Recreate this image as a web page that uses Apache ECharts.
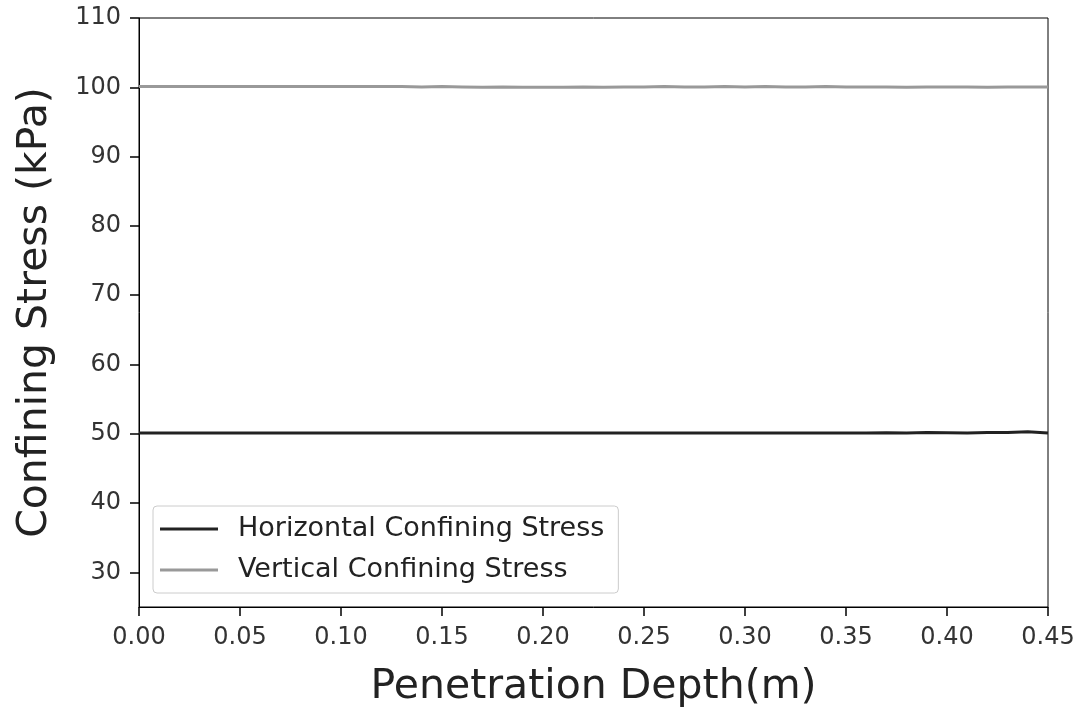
<!DOCTYPE html>
<html>
<head>
<meta charset="utf-8">
<script src="https://cdn.jsdelivr.net/npm/echarts@6/dist/echarts.min.js"></script>
<style>html,body{margin:0;padding:0;background:#fff;}#c{width:1085px;height:712px;}</style>
</head>
<body>
<div id="c"></div>
<script>
const depth = [0.00,0.01,0.02,0.03,0.04,0.05,0.06,0.07,0.08,0.09,0.10,0.11,0.12,0.13,0.14,0.15,0.16,0.17,0.18,0.19,0.20,0.21,0.22,0.23,0.24,0.25,0.26,0.27,0.28,0.29,0.30,0.31,0.32,0.33,0.34,0.35,0.36,0.37,0.38,0.39,0.40,0.41,0.42,0.43,0.44,0.45];
const horizontalStress = [50.1,50.1,50.1,50.1,50.1,50.1,50.1,50.1,50.1,50.1,50.1,50.1,50.1,50.1,50.1,50.1,50.1,50.1,50.1,50.1,50.1,50.1,50.1,50.1,50.1,50.1,50.1,50.1,50.1,50.1,50.1,50.1,50.1,50.1,50.1,50.1,50.1,50.15,50.1,50.2,50.15,50.1,50.2,50.2,50.3,50.1];
const verticalStress = [100.1,100.1,100.1,100.1,100.1,100.1,100.1,100.1,100.1,100.1,100.1,100.1,100.1,100.1,100.05,100.1,100.05,100.0,100.05,100.0,100.0,100.0,100.05,100.0,100.05,100.05,100.1,100.05,100.05,100.1,100.05,100.1,100.05,100.05,100.1,100.05,100.05,100.05,100.0,100.05,100.05,100.05,100.0,100.05,100.05,100.05];
const yTicks = [30,40,50,60,70,80,90,100,110];
const seriesNames = ['Horizontal Confining Stress','Vertical Confining Stress'];

const chart = echarts.init(document.getElementById('c'), null, {renderer:'canvas'});
const font = 'DejaVu Sans';
chart.setOption({
  animation:false,
  backgroundColor:'#fff',
  grid:{left:139,right:37,top:18,bottom:105,containLabel:false,outerBoundsMode:'none',show:true,borderColor:'#000',borderWidth:1,backgroundColor:'transparent'},
  legend:{
    orient:'vertical',left:153,top:506,
    data:seriesNames,
    icon:'rect',itemWidth:58,itemHeight:3,itemGap:11,
    padding:[8,14,8,7],
    borderColor:'#ccc',borderWidth:1,borderRadius:4,backgroundColor:'#fff',
    textStyle:{fontFamily:font,fontSize:27,color:'#222',lineHeight:30,padding:[0,0,0,15]}
  },
  xAxis:{
    type:'value',min:0,max:0.45,interval:0.05,
    name:'Penetration Depth(m)',nameLocation:'middle',nameGap:60,
    nameTextStyle:{fontFamily:font,fontSize:41,color:'#222'},
    axisLine:{show:true,onZero:false,lineStyle:{color:'#000',width:1}},
    axisTick:{show:true,inside:false,length:9,lineStyle:{color:'#000',width:1.5}},
    axisLabel:{fontFamily:font,fontSize:24,color:'#333',margin:19,formatter:v=>v.toFixed(2)},
    splitLine:{show:false}
  },
  yAxis:{
    type:'value',min:25,max:110,
    name:'Confining Stress (kPa)',nameLocation:'middle',nameGap:83,
    nameTextStyle:{fontFamily:font,fontSize:41,color:'#222'},
    axisLine:{show:true,onZero:false,lineStyle:{color:'#000',width:1}},
    axisTick:{show:true,inside:false,length:9,customValues:yTicks,lineStyle:{color:'#000',width:1.5}},
    axisLabel:{fontFamily:font,fontSize:24,color:'#333',margin:18,customValues:yTicks},
    splitLine:{show:false}
  },
  series:[
    {name:seriesNames[0],type:'line',data:depth.map((d,i)=>[d,horizontalStress[i]]),showSymbol:false,lineStyle:{color:'#222',width:3},itemStyle:{color:'#222'},z:2},
    {name:seriesNames[1],type:'line',data:depth.map((d,i)=>[d,verticalStress[i]]),showSymbol:false,lineStyle:{color:'#999',width:3},itemStyle:{color:'#999'},z:3}
  ]
});
</script>
</body>
</html>
